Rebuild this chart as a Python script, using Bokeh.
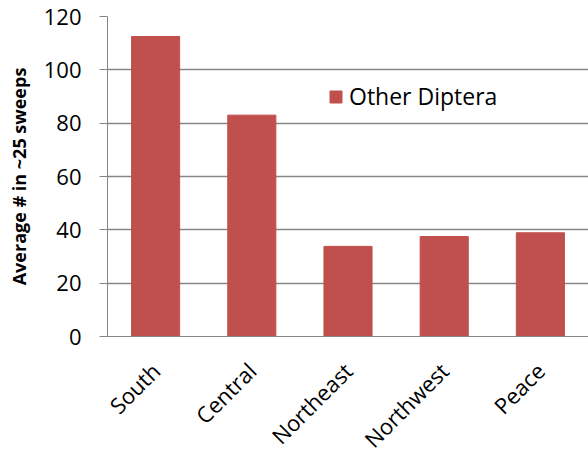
import math
from bokeh.plotting import figure
from bokeh.models import Range1d, Legend, LegendItem, FactorRange, ColumnDataSource
from bokeh.embed import file_html
from bokeh.resources import INLINE

# Average catch per ~25 sweeps by region
regions = ["South", "Central", "Northeast", "Northwest", "Peace"]
other_diptera = [112.5, 83.0, 33.8, 37.5, 38.9]
y_ticks = [0, 20, 40, 60, 80, 100, 120]

FONT = "Open Sans"
BAR = "#C0504D"
GRAY = "#868686"

source = ColumnDataSource(dict(region=regions, value=other_diptera))

p = figure(
    x_range=FactorRange(*regions, range_padding=0),
    y_range=Range1d(0, 120),
    frame_width=481, frame_height=320,
    width=588, height=455,
    min_border_left=107, min_border_right=0, min_border_top=16, min_border_bottom=119,
    output_backend="svg", toolbar_location=None,
)
p.outline_line_color = None
p.background_fill_color = "white"
p.border_fill_color = "white"

bars = p.vbar(x="region", top="value", width=0.5, source=source,
              fill_color=BAR, line_color=BAR)

# y axis
p.yaxis.ticker = y_ticks
p.yaxis.axis_label = "Average # in ~25 sweeps"
p.yaxis.axis_label_text_font = FONT
p.yaxis.axis_label_text_font_style = "bold"
p.yaxis.axis_label_text_font_size = "18px"
p.yaxis.axis_label_text_color = "black"
p.yaxis.axis_label_standoff = 10
p.yaxis.major_label_text_font = FONT
p.yaxis.major_label_text_font_size = "22px"
p.yaxis.major_label_text_color = "black"
p.yaxis.major_label_standoff = 18
p.yaxis.axis_line_color = GRAY
p.yaxis.major_tick_line_color = GRAY
p.yaxis.major_tick_out = 8
p.yaxis.major_tick_in = 0
p.yaxis.minor_tick_line_color = None

# x axis
p.xaxis.major_label_orientation = math.pi / 4
p.xaxis.major_label_text_font = FONT
p.xaxis.major_label_text_font_size = "22px"
p.xaxis.major_label_text_color = "black"
p.xaxis.major_label_standoff = 24
p.xaxis.axis_line_color = GRAY
p.xaxis.major_tick_line_color = None
p.xaxis.minor_tick_line_color = None

p.xgrid.grid_line_color = None
p.ygrid.grid_line_color = GRAY
p.ygrid.grid_line_width = 1.5

legend = Legend(items=[LegendItem(label="Other Diptera", renderers=[bars])],
                location=(221, 224))
legend.label_text_font = FONT
legend.label_text_font_size = "23px"
legend.label_text_color = "black"
legend.glyph_width = 15
legend.glyph_height = 15
legend.label_standoff = 6
legend.padding = 0
legend.margin = 0
legend.border_line_alpha = 0
legend.background_fill_alpha = 0
p.add_layout(legend, "center")

open("out.html", "w").write(file_html(p, INLINE))
